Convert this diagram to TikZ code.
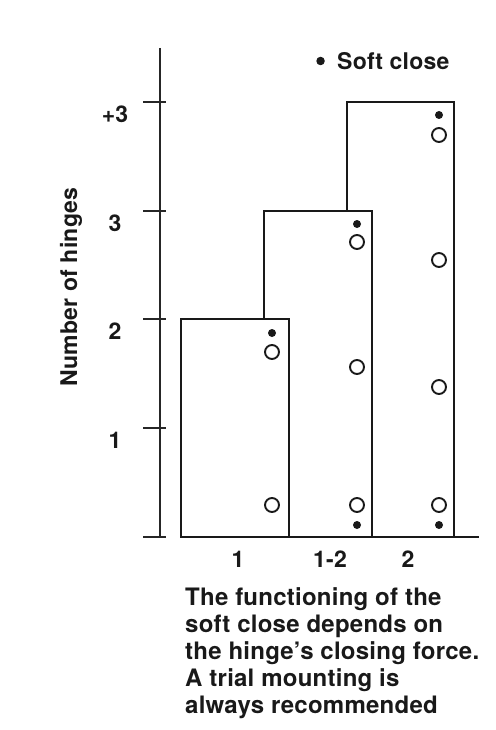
\documentclass[tikz,border=0pt]{standalone}
\usepackage{fontspec}
\setmainfont{TeX Gyre Heros}[LetterSpace=1]
\usetikzlibrary{positioning}

\begin{document}
\begin{tikzpicture}[x=1pt, y=-1pt,
  bar/.style={draw=black!90, line width=2.1pt, fill=white},
  axis/.style={draw=black!85, line width=1.3pt},
  hole/.style={circle, draw=black!90, line width=1.9pt, fill=white,
    minimum size=14pt, inner sep=0pt},
  pin/.style={circle, fill=black!90, minimum size=8pt, inner sep=0pt},
  lbl/.style={font=\fontsize{23}{27}\selectfont\bfseries, text=black!90, inner sep=0pt},
  note/.style={font=\fontsize{24}{27}\selectfont\bfseries, text=black!90,
    inner sep=0pt, align=left, anchor=north west}
]
\useasboundingbox (0,0) rectangle (495,730);

% axis with ticks
\draw[axis] (160,48) -- (160,537);
\draw[axis] (143,537) -- (166,537);
\foreach \y/\t [count=\i] in {428/1, 319/2, 211/3, 102/{+3}} {
  \draw[axis] (143,\y) -- (166,\y);
  \node[lbl] (yt\i) at (115,\y+12) {\t};
}
\node[lbl, rotate=90] (ylab) at (71,287) {Number of hinges};

% bars, back to front
\draw[bar] (347,102) rectangle (454,537);
\draw[bar] (264,211) rectangle (372,537);
\draw[bar] (181,319) rectangle (289,537);
\draw[bar] (181,537) -- (479,537);

% hinges and soft-close pins
\foreach \x/\y [count=\i] in {272/352, 272/505, 357/242, 357/367, 357/505,
                               439/135, 439/260, 439/387, 439/505}
  \node[hole] (h\i) at (\x,\y) {};
\foreach \x/\y [count=\i] in {272/333, 357/224, 357/525, 439/115, 439/525}
  \node[pin] (p\i) at (\x,\y) {};

% legend
\node[lbl, anchor=west] (soft) at (337,61) {Soft close};
\node[pin, minimum size=8.5pt, left=12pt of soft] (softpin) {};

% bar labels
\node[lbl, anchor=base] (x1) at (238,567) {1};
\node[lbl, anchor=base] (x12) at (330,567) {1-2};
\node[lbl, anchor=base] (x2) at (408,567) {2};

\node[note] (remark) at (185,587)
  {The functioning of the\\ soft close depends on\\ the hinge’s closing force.\\
   A trial mounting is\\ always recommended};
\end{tikzpicture}
\end{document}
